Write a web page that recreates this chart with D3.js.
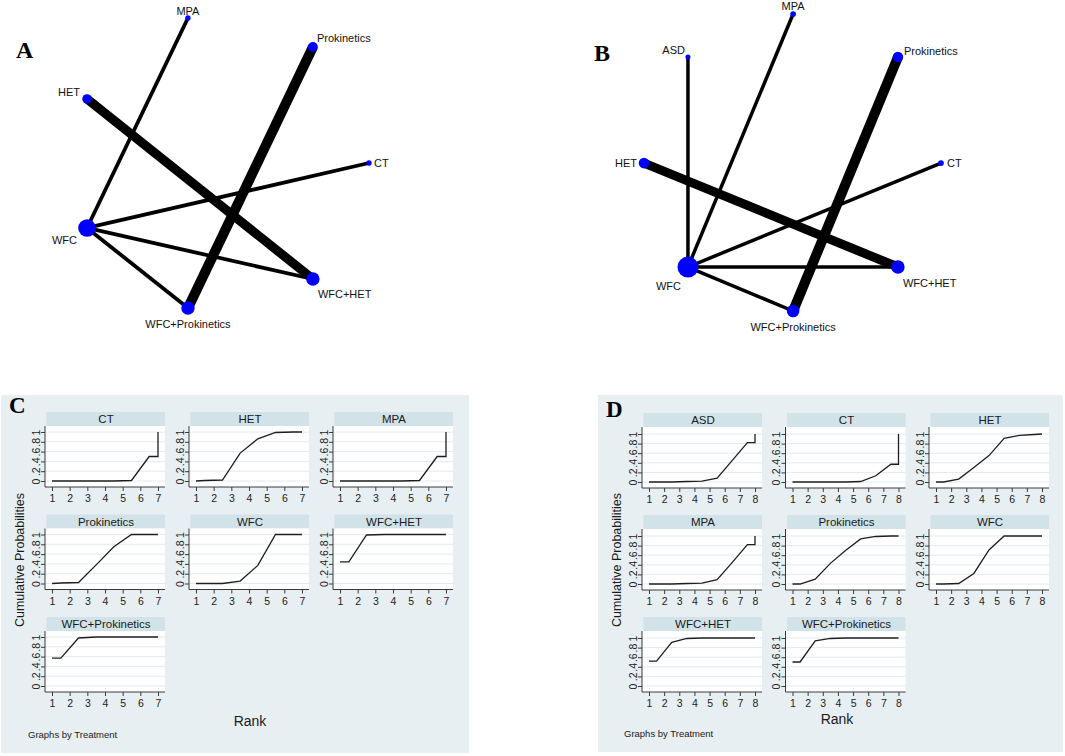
<!DOCTYPE html>
<html>
<head>
<meta charset="utf-8">
<script src="https://cdn.jsdelivr.net/npm/d3@7"></script>
<style>
body { margin: 0; background: #fff; }
text { font-family: "Liberation Sans", Arial, sans-serif; fill: #1a1a1a; }
.panel_letter { font-family: "Liberation Serif", "Times New Roman", serif; font-weight: bold; fill: #000; }
.node_label { font-size: 11px; fill: #111; }
.strip_label { font-size: 11.5px; }
.tick_label { font-size: 10.5px; fill: #222; }
</style>
</head>
<body>
<div id="chart"></div>
<script>
// ---------- network plot data (layout, 0..1) ----------
var nodesA = ["MPA", "Prokinetics", "HET", "CT", "WFC", "WFC+HET", "WFC+Prokinetics"];
var layoutXA = [0.358, 0.801, 0, 1, 0, 0.801, 0.358];
var layoutYA = [0, 0.1, 0.279, 0.5, 0.724, 0.9, 1];
var nodeSizeA = [0.8, 2.8, 2.5, 0.8, 8.6, 5, 5];
var edgeFromA = ["MPA", "Prokinetics", "HET", "CT", "WFC", "WFC"];
var edgeToA = ["WFC", "WFC+Prokinetics", "WFC+HET", "WFC", "WFC+HET", "WFC+Prokinetics"];
var edgeWeightA = [1, 3, 2.7, 1, 1, 1];

var nodesB = ["MPA", "ASD", "Prokinetics", "HET", "CT", "WFC", "WFC+HET", "WFC+Prokinetics"];
var layoutXB = [0.502, 0.148, 0.855, 0, 1, 0.148, 0.855, 0.502];
var layoutYB = [0, 0.145, 0.145, 0.502, 0.502, 0.852, 0.852, 1];
var nodeSizeB = [0.9, 0.7, 3.1, 3.1, 0.9, 12.2, 5, 4.4];
var edgeFromB = ["ASD", "MPA", "Prokinetics", "HET", "CT", "WFC", "WFC"];
var edgeToB = ["WFC", "WFC", "WFC+Prokinetics", "WFC+HET", "WFC", "WFC+HET", "WFC+Prokinetics"];
var edgeWeightB = [0.9, 0.9, 3, 2.7, 0.9, 0.9, 0.9];

// ---------- cumulative ranking data ----------
var ranksC = [1, 1.5, 2.5, 3.5, 4.5, 5.5, 6.5, 7, 7];
var treatmentsC = ["CT", "HET", "MPA", "Prokinetics", "WFC", "WFC+HET", "WFC+Prokinetics"];
var cumC_CT = [0, 0, 0, 0, 0, 0.01, 0.5, 0.5, 1];
var cumC_HET = [0, 0.01, 0.02, 0.57, 0.86, 0.99, 1, 1, 1];
var cumC_MPA = [0, 0, 0, 0, 0, 0.01, 0.5, 0.5, 1];
var cumC_Prokinetics = [0, 0.01, 0.02, 0.38, 0.75, 1, 1, 1, 1];
var cumC_WFC = [0, 0, 0, 0.05, 0.37, 1, 1, 1, 1];
var cumC_WFCHET = [0.44, 0.44, 0.99, 1, 1, 1, 1, 1, 1];
var cumC_WFCProkinetics = [0.57, 0.57, 0.98, 1, 1, 1, 1, 1, 1];

var ranksD = [1, 1.5, 2.5, 3.5, 4.5, 5.5, 6.5, 7.5, 8, 8];
var treatmentsD = ["ASD", "CT", "HET", "MPA", "Prokinetics", "WFC", "WFC+HET", "WFC+Prokinetics"];
var cumD_ASD = [0, 0, 0, 0.01, 0.02, 0.08, 0.45, 0.82, 0.82, 1];
var cumD_CT = [0, 0, 0, 0, 0, 0.01, 0.13, 0.37, 0.37, 1];
var cumD_HET = [0, 0, 0.06, 0.3, 0.55, 0.91, 0.97, 0.99, 1, 1];
var cumD_MPA = [0, 0, 0, 0.01, 0.02, 0.09, 0.45, 0.82, 0.82, 1];
var cumD_Prokinetics = [0, 0, 0.1, 0.43, 0.7, 0.94, 0.99, 1, 1, 1];
var cumD_WFC = [0, 0, 0.01, 0.22, 0.71, 1, 1, 1, 1, 1];
var cumD_WFCHET = [0.52, 0.52, 0.91, 0.99, 1, 1, 1, 1, 1, 1];
var cumD_WFCProkinetics = [0.5, 0.5, 0.94, 0.99, 1, 1, 1, 1, 1, 1];

var yTicks = [0, 0.2, 0.4, 0.6, 0.8, 1];
var yTickLabels = ["0", ".2", ".4", ".6", ".8", "1"];

var svg = d3.select("#chart")
            .append("svg")
            .attr("width", 1065)
            .attr("height", 756);

svg.append("rect").attr("width", 1065).attr("height", 756).attr("fill", "#fff");

// label placement for network nodes (style only)
var labelPosA = {
  "MPA": [0, -3, "middle"], "Prokinetics": [4, -5, "start"], "HET": [-7, -3, "end"],
  "CT": [5, 4, "start"], "WFC": [-10, 16, "end"], "WFC+HET": [5, 19, "start"],
  "WFC+Prokinetics": [0, 20, "middle"]
};
var labelPosB = {
  "MPA": [0, -4, "middle"], "ASD": [-3, -3, "end"], "Prokinetics": [6, -2, "start"],
  "HET": [-7, 4, "end"], "CT": [6, 4, "start"], "WFC": [-7, 23, "end"],
  "WFC+HET": [5, 20, "start"], "WFC+Prokinetics": [0, 20, "middle"]
};

var rScale = d3.scaleSqrt().domain([0, 1]).range([0, 3]);
var wScale = d3.scaleLinear().domain([1, 3]).range([3.8, 10]);

function networkPlot(nodes, lx, ly, sizes, from, to, weights, xRange, yRange, labelPos) {
  var xs = d3.scaleLinear().domain([0, 1]).range(xRange);
  var ys = d3.scaleLinear().domain([0, 1]).range(yRange);
  var pos = {};
  nodes.forEach(function(n, i) { pos[n] = [xs(lx[i]), ys(ly[i])]; });

  var g = svg.append("g");
  g.selectAll("line")
    .data(from)
    .enter()
    .append("line")
    .attr("x1", function(d) { return pos[d][0]; })
    .attr("y1", function(d) { return pos[d][1]; })
    .attr("x2", function(d, i) { return pos[to[i]][0]; })
    .attr("y2", function(d, i) { return pos[to[i]][1]; })
    .attr("stroke", "#000")
    .attr("stroke-width", function(d, i) { return wScale(weights[i]); });

  g.selectAll("circle")
    .data(nodes)
    .enter()
    .append("circle")
    .attr("cx", function(d) { return pos[d][0]; })
    .attr("cy", function(d) { return pos[d][1]; })
    .attr("r", function(d, i) { return rScale(sizes[i]); })
    .attr("fill", "#0000ff");

  g.selectAll("text")
    .data(nodes)
    .enter()
    .append("text")
    .attr("class", "node_label")
    .attr("x", function(d) { return pos[d][0] + labelPos[d][0]; })
    .attr("y", function(d) { return pos[d][1] + labelPos[d][1]; })
    .attr("text-anchor", function(d) { return labelPos[d][2]; })
    .text(function(d) { return d; });
}

networkPlot(nodesA, layoutXA, layoutYA, nodeSizeA, edgeFromA, edgeToA, edgeWeightA, [87, 369], [18, 308], labelPosA);
networkPlot(nodesB, layoutXB, layoutYB, nodeSizeB, edgeFromB, edgeToB, edgeWeightB, [644, 941], [14, 311], labelPosB);

//Panel letters
svg.append("text").attr("class", "panel_letter").attr("x", 16).attr("y", 58).style("font-size", "24px").text("A");
svg.append("text").attr("class", "panel_letter").attr("x", 594).attr("y", 61).style("font-size", "24px").text("B");

//Rank-o-gram panels
function rankPanel(cfg) {
  var g = svg.append("g");
  g.append("rect")
    .attr("x", cfg.bg[0]).attr("y", cfg.bg[1])
    .attr("width", cfg.bg[2]).attr("height", cfg.bg[3])
    .attr("fill", "#e7eff2");

  var xScale = d3.scaleLinear().domain([1, cfg.maxRank]).range([7, cfg.cellW - 7]);
  var yScale = d3.scaleLinear().domain([0, 1]).range([cfg.cellH - 6, cfg.y1Off]);
  var line = d3.line()
               .x(function(d) { return xScale(d[0]); })
               .y(function(d) { return yScale(d[1]); });

  cfg.treatments.forEach(function(t, i) {
    var col = i % 3, row = Math.floor(i / 3);
    var cell = g.append("g")
                .attr("transform", "translate(" + (cfg.left + col * cfg.colStep) + "," + (cfg.top + row * cfg.rowStep) + ")");

    cell.append("rect")
        .attr("x", 1.5).attr("y", -14)
        .attr("width", cfg.cellW - 1.5).attr("height", 14)
        .attr("fill", "#d2e2e9");
    cell.append("text")
        .attr("class", "strip_label")
        .attr("x", cfg.cellW / 2 + 1).attr("y", -3)
        .attr("text-anchor", "middle")
        .text(t);

    cell.append("rect")
        .attr("width", cfg.cellW).attr("height", cfg.cellH)
        .attr("fill", "#fff");

    cell.selectAll(".grid")
        .data(yTicks)
        .enter()
        .append("line")
        .attr("class", "grid")
        .attr("x1", 0).attr("x2", cfg.cellW)
        .attr("y1", function(d) { return yScale(d); })
        .attr("y2", function(d) { return yScale(d); })
        .attr("stroke", "#e1eaee")
        .attr("stroke-width", 1);

    var yAxis = d3.axisLeft(yScale)
                  .tickValues(yTicks)
                  .tickSize(4)
                  .tickFormat(function(d, k) { return yTickLabels[k]; });
    var ya = cell.append("g").call(yAxis);
    ya.select(".domain").attr("d", "M0,0V" + cfg.cellH);
    ya.selectAll("text")
      .attr("class", "tick_label")
      .attr("transform", "rotate(-90)")
      .attr("x", 0).attr("y", -5.5).attr("dy", 0)
      .attr("text-anchor", "middle");

    var xAxis = d3.axisBottom(xScale)
                  .tickValues(d3.range(1, cfg.maxRank + 1))
                  .tickSize(4)
                  .tickPadding(4)
                  .tickFormat(d3.format("d"));
    var xa = cell.append("g")
                 .attr("transform", "translate(0," + cfg.cellH + ")")
                 .call(xAxis);
    xa.select(".domain").attr("d", "M0,0H" + cfg.cellW);
    xa.selectAll("text").attr("class", "tick_label");

    g.selectAll(".domain, .tick line").attr("stroke", "#3a3a3a");

    var pts = cfg.ranks.map(function(r, k) { return [r, cfg.values[i][k]]; });
    cell.append("path")
        .datum(pts)
        .attr("d", line)
        .attr("fill", "none")
        .attr("stroke", "#1e1e1e")
        .attr("stroke-width", 1.3);
  });

  svg.append("text")
     .attr("transform", "translate(" + cfg.yLabel[0] + "," + cfg.yLabel[1] + ") rotate(-90)")
     .attr("text-anchor", "middle")
     .style("font-size", "12.5px")
     .text("Cumulative Probabilities");
  svg.append("text")
     .attr("x", cfg.xLabel[0]).attr("y", cfg.xLabel[1])
     .attr("text-anchor", "middle")
     .style("font-size", "14px")
     .text("Rank");
  svg.append("text")
     .attr("x", cfg.note[0]).attr("y", cfg.note[1])
     .style("font-size", "9.5px")
     .text("Graphs by Treatment");
  svg.append("text")
     .attr("class", "panel_letter")
     .attr("x", cfg.letter[0]).attr("y", cfg.letter[1])
     .style("font-size", "23px")
     .text(cfg.letter[2]);
}

rankPanel({
  bg: [1, 395, 468, 358],
  treatments: treatmentsC,
  ranks: ranksC,
  values: [cumC_CT, cumC_HET, cumC_MPA, cumC_Prokinetics, cumC_WFC, cumC_WFCHET, cumC_WFCProkinetics],
  maxRank: 7,
  left: 45, top: 426, cellW: 120, cellH: 61, y1Off: 6,
  colStep: 144, rowStep: 102.5,
  yLabel: [24, 560], xLabel: [250, 726], note: [28, 738],
  letter: [9, 413, "C"]
});

rankPanel({
  bg: [598, 395, 465, 357],
  treatments: treatmentsD,
  ranks: ranksD,
  values: [cumD_ASD, cumD_CT, cumD_HET, cumD_MPA, cumD_Prokinetics, cumD_WFC, cumD_WFCHET, cumD_WFCProkinetics],
  maxRank: 8,
  left: 642, top: 427, cellW: 120, cellH: 61, y1Off: 7,
  colStep: 143.5, rowStep: 102,
  yLabel: [621, 560], xLabel: [837, 724], note: [624, 737],
  letter: [606, 417, "D"]
});
</script>
</body>
</html>
